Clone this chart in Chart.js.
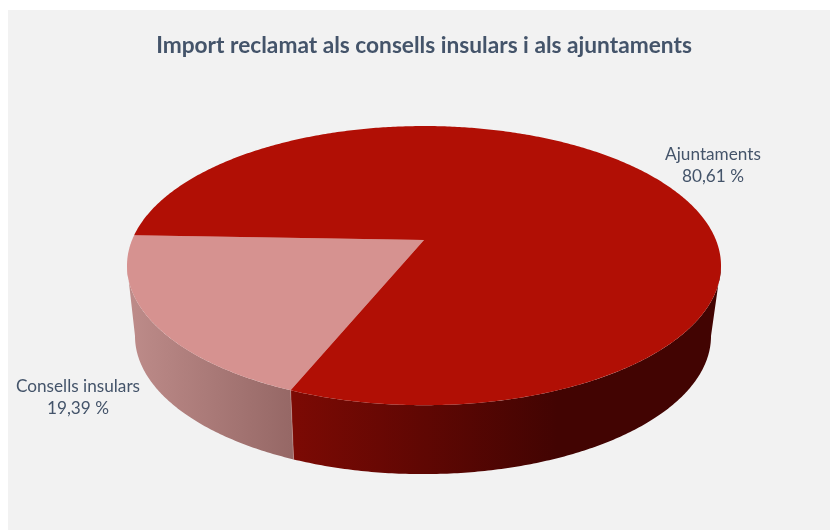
<!DOCTYPE html>
<html>
<head>
<meta charset="utf-8">
<title>Import reclamat</title>
<script src="https://cdn.jsdelivr.net/npm/chart.js@4"></script>
<style>
html, body { margin: 0; background: #fff; }
canvas { display: block; }
</style>
</head>
<body>
<canvas id="pieChart" width="830" height="530"></canvas>
<script>
// dades
const categories = ['Consells insulars', 'Ajuntaments'];
const percentages = [19.39, 80.61];
const chartTitle = 'Import reclamat als consells insulars i als ajuntaments';

// colors
const topColors = ['#D69290', '#B10F05'];
const wallColors = [['#BE8C8A', '#966866'], ['#7C0A04', '#420402']];
const wallStops = [1, 0.62];
const textColor = '#44546A';

// perspectiva: la cara superior i la inferior son el·lipses
const persp = -0.183;
const tilt = 0.47;
const bottomShift = { x: -1, y: 70.5, rx: 288 / 297, ry: 138 / 297 };
const labelPos = [{ x: 78, y: 386 }, { x: 713, y: 154 }];

// punt de l'el·lipse per a un angle del cercle
function project(ell, angle) {
    const d = 1 + persp * Math.sin(angle);
    const u = Math.cos(angle) * Math.sqrt(1 - persp * persp) / d;
    const v = (Math.sin(angle) + persp) / d;
    return [ell.x + ell.rx * u, ell.y + ell.ry * v];
}

function arcPoints(ell, from, to) {
    const pts = [];
    const n = Math.max(2, Math.ceil(Math.abs(to - from) / 0.01));
    for (let i = 0; i <= n; i++) {
        pts.push(project(ell, from + (to - from) * i / n));
    }
    return pts;
}

function tracePath(ctx, pts) {
    ctx.beginPath();
    pts.forEach((p, i) => i ? ctx.lineTo(p[0], p[1]) : ctx.moveTo(p[0], p[1]));
    ctx.closePath();
}

// la part visible del lateral, entre els dos extrems de l'el·lipse
function visibleRange(start, end) {
    const a = Math.asin(-persp);
    for (const k of [0, Math.PI * 2]) {
        const lo = Math.max(start, a + k);
        const hi = Math.min(end, Math.PI - a + k);
        if (hi > lo) return [lo, hi];
    }
    return null;
}

const pie3d = {
    id: 'pie3d',
    beforeDraw(chart) {
        const ctx = chart.ctx;
        ctx.save();
        ctx.fillStyle = '#F2F2F2';
        ctx.fillRect(8, 10, 822, 520);
        ctx.restore();
    },
    beforeDatasetsDraw(chart) {
        const ctx = chart.ctx;
        const arcs = chart.getDatasetMeta(0).data;
        const r = arcs[0].outerRadius;
        const top = { x: arcs[0].x, y: arcs[0].y, rx: r, ry: r * tilt };
        const bottom = {
            x: top.x + bottomShift.x,
            y: top.y + bottomShift.y,
            rx: r * bottomShift.rx,
            ry: r * bottomShift.ry
        };
        ctx.save();

        // lateral
        arcs.forEach((arc, i) => {
            const range = visibleRange(arc.startAngle, arc.endAngle);
            if (!range) return;
            const upper = arcPoints(top, range[0], range[1]);
            const lower = arcPoints(bottom, range[1], range[0]);
            const xs = upper.map(p => p[0]);
            const grad = ctx.createLinearGradient(Math.min(...xs), 0, Math.max(...xs), 0);
            grad.addColorStop(0, wallColors[i][0]);
            grad.addColorStop(wallStops[i], wallColors[i][1]);
            ctx.fillStyle = grad;
            tracePath(ctx, upper.concat(lower));
            ctx.fill();
        });

        // junta entre els dos sectors
        const seam = arcs[0].startAngle;
        const a = project(top, seam);
        const b = project(bottom, seam);
        ctx.strokeStyle = 'rgba(255,255,255,0.25)';
        ctx.lineWidth = 1;
        ctx.beginPath();
        ctx.moveTo(a[0], a[1]);
        ctx.lineTo(b[0], b[1]);
        ctx.stroke();

        // cara superior
        arcs.forEach((arc, i) => {
            const apex = [top.x, top.y + top.ry * persp];
            ctx.fillStyle = topColors[i];
            tracePath(ctx, [apex].concat(arcPoints(top, arc.startAngle, arc.endAngle)));
            ctx.fill();
        });

        ctx.restore();
        return false; // no dibuixar el pastís pla
    },
    afterDraw(chart) {
        const ctx = chart.ctx;
        ctx.save();
        ctx.fillStyle = textColor;
        ctx.font = '17.2px Lato, sans-serif';
        ctx.textAlign = 'center';
        ctx.textBaseline = 'middle';
        categories.forEach((name, i) => {
            const pct = percentages[i].toFixed(2).replace('.', ',') + ' %';
            ctx.fillText(name, labelPos[i].x, labelPos[i].y);
            ctx.fillText(pct, labelPos[i].x, labelPos[i].y + 22);
        });
        ctx.restore();
    }
};

new Chart(document.getElementById('pieChart'), {
    type: 'pie',
    data: {
        labels: categories,
        datasets: [{
            data: percentages,
            backgroundColor: topColors,
            borderWidth: 0
        }]
    },
    options: {
        responsive: false,
        animation: false,
        rotation: 202.3,
        radius: 297,
        layout: { padding: { left: 18, top: 0, right: 0, bottom: 66 } },
        plugins: {
            legend: { display: false },
            tooltip: { enabled: false },
            title: {
                display: true,
                text: chartTitle,
                color: textColor,
                font: { family: 'Lato, sans-serif', size: 22.7, weight: 'bold', lineHeight: 1.2 },
                padding: { top: 32, bottom: 8 }
            }
        }
    },
    plugins: [pie3d]
});
</script>
</body>
</html>
